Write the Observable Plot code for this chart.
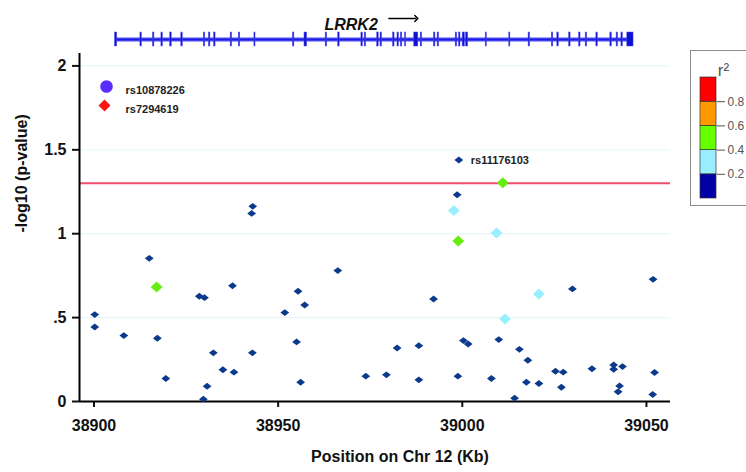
<!DOCTYPE html>
<html><head><meta charset="utf-8">
<script src="https://cdn.jsdelivr.net/npm/d3@7"></script>
<script src="https://cdn.jsdelivr.net/npm/@observablehq/plot@0.6"></script>
<style>
html,body{margin:0;padding:0;background:#fff;overflow:hidden;}
#wrap{position:relative;width:746px;height:472px;overflow:hidden;font-family:"Liberation Sans",Arial,sans-serif;}
#main,#track,#legend{position:absolute;left:0;top:0;}
#legend{left:690px;top:50px;width:70px;height:154px;border:1px solid #8c8c8c;}
</style></head><body>
<div id="wrap"><div id="main"></div><div id="track"></div><div id="legend"></div></div>
<script>
// ---- axes ----
const xDomain = [38896.06, 39056.53];
const yDomain = [0, 2.074];
const xTicks = [38900, 38950, 39000, 39050];
const xTickLabels = ["38900", "38950", "39000", "39050"];
const yTicks = [0, 0.5, 1, 1.5, 2];
const yTickLabels = ["0", ".5", "1", "1.5", "2"];
const gridLevels = [0.5, 1, 1.5, 2];
const threshold = 1.30103;
const xTitle = "Position on Chr 12 (Kb)";
const yTitle = "-log10 (p-value)";

// ---- SNPs ----
const snpPos = [
  38943.1, 38942.8, 38915.0, 38928.6, 38930.0, 38937.6, 38900.2, 38900.2, 38908.1, 38917.2,
  38932.4, 38943.0, 38935.0, 38938.0, 38919.5, 38930.7, 38929.7, 38998.6, 38966.2, 38955.4,
  38957.2, 38951.8, 38992.2, 38955.0, 38982.3, 38988.2, 38956.1, 38973.8, 38979.4, 38988.2,
  38998.8, 38999.05, 39051.8, 39029.9, 39000.3, 39001.6, 39009.9, 39015.5, 39017.8, 39025.3,
  39027.4, 39035.2, 39041.1, 39041.1, 39043.5, 39052.2, 39007.9, 39017.4, 39020.8, 39026.9,
  39042.7, 39042.3, 39014.2, 39051.7,
  38917.0, 38998.9, 39011.0,
  38997.7, 39009.3, 39020.8, 39011.6
];
const snpLogP = [
  1.163, 1.121, 0.853, 0.627, 0.619, 0.690, 0.518, 0.444, 0.393, 0.377,
  0.290, 0.290, 0.189, 0.175, 0.137, 0.091, 0.014, 1.232, 0.780, 0.657,
  0.575, 0.530, 0.611, 0.355, 0.319, 0.333, 0.115, 0.151, 0.159, 0.129,
  0.151, 1.439, 0.728, 0.671, 0.363, 0.343, 0.369, 0.311, 0.246, 0.180,
  0.175, 0.195, 0.218, 0.192, 0.208, 0.173, 0.137, 0.115, 0.107, 0.085,
  0.093, 0.058, 0.020, 0.042,
  0.683, 0.957, 1.304,
  1.138, 1.004, 0.641, 0.492
];
const snpR2 = [
  0.1,0.1,0.1,0.1,0.1,0.1,0.1,0.1,0.1,0.1,
  0.1,0.1,0.1,0.1,0.1,0.1,0.1,0.1,0.1,0.1,
  0.1,0.1,0.1,0.1,0.1,0.1,0.1,0.1,0.1,0.1,
  0.1,0.1,0.1,0.1,0.1,0.1,0.1,0.1,0.1,0.1,
  0.1,0.1,0.1,0.1,0.1,0.1,0.1,0.1,0.1,0.1,
  0.1,0.1,0.1,0.1,
  0.5, 0.5, 0.5,
  0.3, 0.3, 0.3, 0.3
];
const labelIndex = 31;
const labelName = "rs11176103";

// reference SNP legend
const refSnpNames = ["rs10878226", "rs7294619"];
const refSnpColors = ["#5a2cff", "#ff1414"];
const refSnpSymbols = ["circle", "diamond2"];

// r2 colour key
const r2Breaks = [0.2, 0.4, 0.6, 0.8];
const r2Lo = [0, 0.2, 0.4, 0.6, 0.8];
const r2Hi = [0.2, 0.4, 0.6, 0.8, 1.0];
const keyColors = ["#0000a6", "#99efff", "#66ff00", "#ff9900", "#ff0000"];
const pointColors = ["#0b3a8c", "#99efff", "#66ee11", "#ff9900", "#ff0000"];

// ---- gene LRRK2 ----
const geneName = "LRRK2";
const geneStart = 38906.0, geneEnd = 39046.5;
const exonStart = [38905.7,38912.6,38916.0,38918.3,38920.7,38923.7,38929.8,38931.2,38932.6,38937.1,
  38939.3,38943.55,38954.0,38957.15,38962.9,38966.3,38972.6,38973.5,38976.9,38977.8,
  38981.2,38982.4,38983.3,38984.45,38986.95,38988.7,38992.3,38993.3,38998.2,38999.1,
  39000.1,39001.0,39006.35,39012.75,39018.0,39024.3,39025.8,39029.0,39031.7,39033.5,
  39036.4,39040.2,39041.9,39043.2,39044.8];
const exonEnd = [38906.3,38913.0,38916.4,38918.7,38921.1,38924.1,38930.2,38931.6,38933.0,38937.5,
  38939.7,38943.85,38954.4,38957.85,38963.3,38966.7,38973.0,38973.9,38977.3,38978.2,
  38981.6,38982.8,38983.7,38984.75,38988.05,38989.1,38992.7,38993.7,38998.6,38999.5,
  39000.7,39001.6,39006.65,39013.05,39018.4,39024.7,39026.2,39029.4,39032.1,39033.9,
  39036.8,39040.6,39042.3,39043.6,39046.5];

// ---- build ----
const snps = snpPos.map((p, i) => ({pos: p, logp: snpLogP[i], r2: snpR2[i]}));
const lowSnps = snps.filter(d => d.r2 < 0.2);
const highSnps = snps.filter(d => d.r2 >= 0.2);
const labelled = [{...snps[labelIndex], name: labelName}];
const exons = exonStart.map((s, i) => ({s, e: exonEnd[i]}));
const gene = [{start: geneStart, end: geneEnd, mid: (geneStart + geneEnd) / 2, name: geneName}];
const refSnps = refSnpNames.map((n, i) => ({name: n, color: refSnpColors[i], symbol: refSnpSymbols[i]}));
const keyBins = r2Lo.map((lo, i) => ({lo, hi: r2Hi[i], mid: (lo + r2Hi[i]) / 2}));

function diamondSym(aspect, k) {
  return {draw(ctx, size) {
    const w = Math.sqrt(size) * k, h = w * aspect;
    ctx.moveTo(0, -h); ctx.lineTo(w, 0); ctx.lineTo(0, h); ctx.lineTo(-w, 0); ctx.closePath();
  }};
}
const smallDiamond = diamondSym(0.78, 0.62);
const bigDiamond = diamondSym(0.93, 0.62);

const font = "'Liberation Sans', Arial, Helvetica, sans-serif";

const main = Plot.plot({
  width: 746, height: 472,
  marginLeft: 79, marginRight: 76, marginTop: 53, marginBottom: 71,
  style: {fontFamily: font, fontSize: "16px", color: "#111", background: "white", overflow: "visible"},
  x: {domain: xDomain},
  y: {domain: yDomain},
  color: {type: "threshold", domain: r2Breaks, range: pointColors},
  marks: [
    Plot.ruleY(gridLevels, {stroke: "#e3f5f5", strokeWidth: 1}),
    Plot.ruleY([threshold], {stroke: "#f04e6e", strokeWidth: 2}),
    Plot.axisX({ticks: xTicks, tickFormat: d => xTickLabels[xTicks.indexOf(d)], tickSize: 6, tickPadding: 12,
      strokeWidth: 2, fontWeight: "bold", fontSize: 16, label: null}),
    Plot.axisY({ticks: yTicks, tickFormat: d => yTickLabels[yTicks.indexOf(d)], tickSize: 7, tickPadding: 6,
      strokeWidth: 2, fontWeight: "bold", fontSize: 16, label: null}),
    Plot.ruleY([0], {stroke: "#000", strokeWidth: 2}),
    Plot.ruleX([xDomain[0]], {stroke: "#000", strokeWidth: 2}),
    Plot.dot(lowSnps, {x: "pos", y: "logp", fill: "r2", r: 4, symbol: smallDiamond}),
    Plot.dot(highSnps, {x: "pos", y: "logp", fill: "r2", r: 5.4, symbol: bigDiamond}),
    Plot.text(labelled, {x: "pos", y: "logp", text: "name", textAnchor: "start", dx: 12, fontSize: 11, fontWeight: "bold", fill: "#222"}),
    ...refSnps.map((d, i) => Plot.dot([d], {frameAnchor: "top-left", dx: i === 0 ? 27 : 25, dy: 33 + 19 * i,
      fill: "color", symbol: d.symbol, r: i === 0 ? 6.3 : 5.4})),
    ...refSnps.map((d, i) => Plot.text([d], {frameAnchor: "top-left", dx: 46, dy: 33 + 19 * i, text: "name",
      textAnchor: "start", fontSize: 11, fontWeight: "bold", fill: "#222"})),
    Plot.text([xTitle], {frameAnchor: "bottom", dx: 25, dy: 60, fontSize: 16, fontWeight: "bold", fill: "#111"}),
    Plot.text([yTitle], {frameAnchor: "left", rotate: -90, dx: -58, dy: 5, fontSize: 16, fontWeight: "bold", fill: "#111"})
  ]
});
document.getElementById("main").appendChild(main);

const track = Plot.plot({
  width: 746, height: 55,
  marginLeft: 79, marginRight: 76, marginTop: 32, marginBottom: 9,
  style: {fontFamily: font, background: "transparent", overflow: "visible"},
  x: {domain: xDomain, axis: null},
  y: {domain: [-1, 1], axis: null},
  marks: [
    Plot.ruleY([0], {x1: geneStart, x2: geneEnd, stroke: "#a8a8ff", strokeWidth: 5}),
    Plot.ruleY([0], {x1: geneStart, x2: geneEnd, stroke: "#1c1ce8", strokeWidth: 2.5}),
    Plot.rect(exons, {x1: "s", x2: "e", y1: -1, y2: 1, fill: "#1010d0", stroke: "#5050f0", strokeWidth: 0.5}),
    Plot.text(gene, {x: "mid", frameAnchor: "top", dy: -14, dx: 3, text: "name", textAnchor: "end",
      fontSize: 16, fontWeight: "bold", fontStyle: "italic", fill: "#111"}),
    Plot.link(gene, {x1: "mid", x2: d => d.mid + 7.6, y1: 0, y2: 0, dx: 13.5, dy: -21,
      stroke: "#000", strokeWidth: 1.5, markerEnd: "arrow"})
  ]
});
document.getElementById("track").appendChild(track);

const key = Plot.plot({
  width: 70, height: 154,
  marginLeft: 9, marginRight: 45, marginTop: 26, marginBottom: 7,
  style: {fontFamily: font, background: "transparent", color: "#555", overflow: "visible"},
  x: {domain: [0, 1], axis: null},
  y: {domain: [0, 1], axis: null},
  color: {type: "threshold", domain: r2Breaks, range: keyColors},
  marks: [
    Plot.rect(keyBins, {x1: 0, x2: 1, y1: "lo", y2: "hi", fill: "mid", stroke: "#333", strokeWidth: 0.7}),
    Plot.axisY({anchor: "right", ticks: r2Breaks, tickFormat: d3.format(".1f"), tickSize: 8, tickPadding: 3,
      fontSize: 12, label: null}),
    Plot.text(["r²"], {frameAnchor: "top", dx: 15, dy: -14, fontSize: 17, fill: "#555"})
  ]
});
document.getElementById("legend").appendChild(key);
</script>
</body></html>
